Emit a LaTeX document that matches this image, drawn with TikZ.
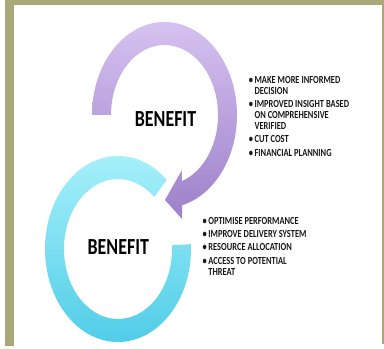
\documentclass[tikz,border=0pt]{standalone}
\usepackage{fontspec}
\setmainfont{Carlito}
\usetikzlibrary{calc}
\definecolor{frameolive}{RGB}{169,168,121}
\definecolor{purphi}{RGB}{214,194,240}
\definecolor{purplo}{RGB}{156,128,202}
\definecolor{cyanhi}{RGB}{170,242,251}
\definecolor{cyanlo}{RGB}{76,203,230}

\begin{document}
\begin{tikzpicture}[x=1pt, y=1pt,
bl/.style = {% big labels
    font=\fontsize{23}{26}\selectfont\bfseries, xscale=0.78, inner sep=0pt,
            },
tl/.style = {% list text
    font=\fontsize{10.8}{11}\selectfont\bfseries, xscale=0.78, inner sep=0pt,
    anchor=base west, text=black!90,
            },
                        ]
% frame
\useasboundingbox (0,0) rectangle (384,349);
\fill[white] (0,0) rectangle (384,349);
\fill[frameolive] (5,344) rectangle (384,349);
\fill[frameolive] (5,3) rectangle (14,349);
\fill[frameolive] (382,5) rectangle (384,349);
% cyan ring
\shade[top color=cyanhi, bottom color=cyanlo]
    ($(118,100)+(48:73 and 93)$)
    arc[start angle=48, end angle=363, x radius=73, y radius=93]
    -- ($(118,100)+(363:54 and 70)$)
    arc[start angle=363, end angle=48, x radius=54, y radius=70] -- cycle;
% purple arrow
\shade[top color=purphi, bottom color=purplo]
    (92,234) arc[start angle=180, end angle=-76, x radius=72.5, y radius=93]
    -- (182,130) -- (165,149) -- (182,179)
    -- ($(164.5,234)+(-71:53.5 and 70)$)
    arc[start angle=-71, end angle=180, x radius=53.5, y radius=70] -- cycle;
% labels
\node[bl] (benA) at (165.5,230) {BENEFIT};
\node[bl] (benB) at (118.3,102) {BENEFIT};
% lists
\node[tl] (listA) at (248.7,265.8) {\begin{tabular}[t]{@{}l@{\hspace{2pt}}l@{}}
    \textbullet & MAKE MORE INFORMED\\
                & DECISION\\[2.4pt]
    \textbullet & IMPROVED INSIGHT BASED\\
                & ON COMPREHENSIVE\\
                & VERIFIED\\[2.4pt]
    \textbullet & CUT COST\\[2.4pt]
    \textbullet & FINANCIAL PLANNING
    \end{tabular}};
\node[tl] (listB) at (202.5,124.8) {\begin{tabular}[t]{@{}l@{\hspace{2pt}}l@{}}
    \textbullet & OPTIMISE PERFORMANCE\\[2.4pt]
    \textbullet & IMPROVE DELIVERY SYSTEM\\[2.4pt]
    \textbullet & RESOURCE ALLOCATION\\[2.4pt]
    \textbullet & ACCESS TO POTENTIAL\\
                & THREAT
    \end{tabular}};
\end{tikzpicture}
\end{document}
